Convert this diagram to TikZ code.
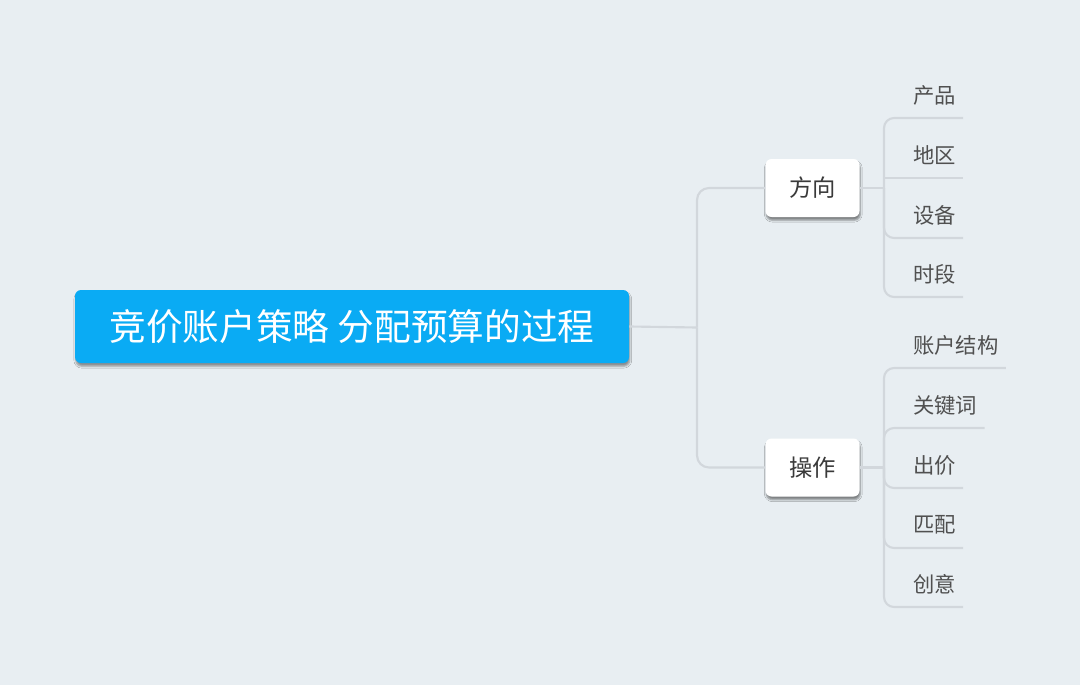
\documentclass[tikz,border=0pt]{standalone}
\usepackage{fontspec}
\newfontfamily\cjk{Noto Sans CJK SC}
\usetikzlibrary{shadows.blur,calc}
\definecolor{bg}{HTML}{E8EEF2}
\definecolor{mainblue}{HTML}{0AABF4}
\definecolor{linkcol}{HTML}{D2D7DC}
\definecolor{subtext}{HTML}{3A3A3A}
\definecolor{leaftext}{HTML}{505050}
\begin{document}
\begin{tikzpicture}[x=0.75pt,y=-0.75pt,
  mainbox/.style={fill=mainblue, rounded corners=4.5pt, text=white,
    minimum width=415.5pt, minimum height=54.75pt, inner sep=0pt,
    font=\cjk\fontsize{27.5}{30}\selectfont,
    blur shadow={shadow xshift=0.6pt, shadow yshift=-2.4pt, shadow blur radius=1.4pt, shadow opacity=40}},
  subbox/.style={fill=white, rounded corners=4.5pt, text=subtext,
    minimum width=70.5pt, minimum height=43.5pt, inner sep=0pt,
    font=\cjk\fontsize{17.5}{20}\selectfont,
    blur shadow={shadow xshift=0.6pt, shadow yshift=-2.4pt, shadow blur radius=1.4pt, shadow opacity=45}},
  leaf/.style={anchor=west, inner sep=0pt, text=leaftext,
    font=\cjk\fontsize{16}{18}\selectfont},
  link/.style={draw=linkcol, line width=1.6pt},
  roundlink/.style={link, rounded corners=7.5pt},
]
\fill[bg] (0,0) rectangle (1080,685);
\useasboundingbox (0,0) rectangle (1080,685);

% nodes
\node[mainbox] (root) at (352,326.5) {竞价账户策略 分配预算的过程};
\node[subbox] (fx) at (812.5,188) {方向};
\node[subbox] (cz) at (812.5,467.5) {操作};

\node[leaf] (p1) at (913,95) {产品};
\node[leaf] (p2) at (913,155) {地区};
\node[leaf] (p3) at (913,215) {设备};
\node[leaf] (p4) at (913,274) {时段};

\node[leaf] (q1) at (913,345) {账户结构};
\node[leaf] (q2) at (913,405) {关键词};
\node[leaf] (q3) at (913,465) {出价};
\node[leaf] (q4) at (913,525) {匹配};
\node[leaf] (q5) at (913,584) {创意};

% junctions and underline ends
\coordinate (hub) at (697,327.5);
\coordinate (j1) at (884,188);
\coordinate (j2) at (884,467.5);
\foreach \n in {p1,p2,p3,p4,q1,q2,q3,q4,q5}{
  \coordinate (e\n) at ($(\n.east)+(7,23)$);
}

% connectors
\draw[link] (root.east) -- (hub);
\draw[link, rounded corners=9pt] (hub) |- (fx.west);
\draw[link, rounded corners=9pt] (hub) |- (cz.west);

\draw[link] (fx.east) -- (j1);
\draw[roundlink] (j1) |- (ep1);
\draw[link] (j1) |- (ep2);
\draw[roundlink] (j1) |- (ep3);
\draw[roundlink] (j1) |- (ep4);

\draw[link] (cz.east) -- (j2);
\draw[roundlink] (j2) |- (eq1);
\draw[roundlink] (j2) |- (eq2);
\draw[roundlink] (j2) |- (eq3);
\draw[roundlink] (j2) |- (eq4);
\draw[roundlink] (j2) |- (eq5);
\end{tikzpicture}
\end{document}
